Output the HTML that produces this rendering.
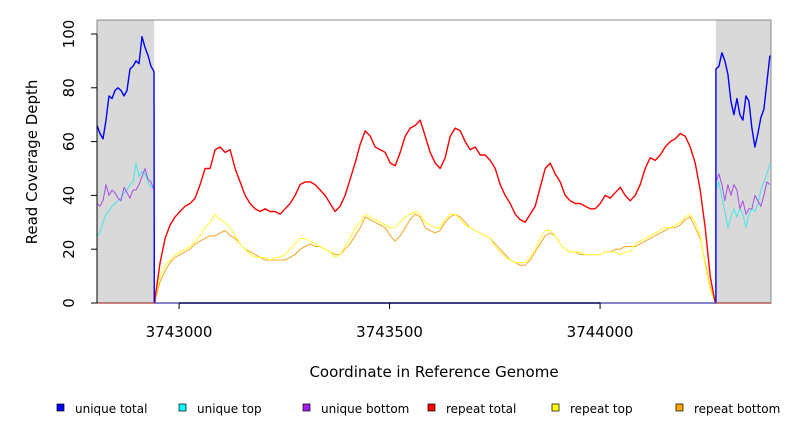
<!DOCTYPE html>
<html><head><meta charset="utf-8"><style>
body{margin:0;background:#fff;width:792px;height:432px;overflow:hidden;font-family:"DejaVu Sans","Liberation Sans",sans-serif}
</style></head><body>
<svg id="chart" width="792" height="432" xmlns="http://www.w3.org/2000/svg" font-family="DejaVu Sans, Liberation Sans, sans-serif">
<g id="bg"></g><g id="series"></g><g id="axes"></g>
<text x="37" y="162" font-size="15" text-anchor="middle" transform="rotate(-90 37 162)">Read Coverage Depth</text>
<text x="434" y="377" font-size="15" text-anchor="middle">Coordinate in Reference Genome</text>
<g id="legend"></g>
</svg>
<script>
const xTicks=[3743000,3743500,3744000];
const yTicks=[0,20,40,60,80,100];
const leftRegion=[3742805,3742941];
const rightRegion=[3744275,3744406];
const repeatStart=3742943, repeatStep=11.88;
const repeatTotal=[2,15,24,29,32,34,36,37,39,44,50,50,57,58,56,57,50,45,40,37,35,34,35,34,34,33,35,37,40,44,45,45,44,42,40,37,34,36,40,46,52,59,64,62,58,57,56,52,51,56,62,65,66,68,62,56,52,50,54,62,65,64,60,57,58,55,55,53,50,44,40,37,33,31,30,33,36,43,50,52,48,45,40,38,37,37,36,35,35,37,40,39,41,43,40,38,40,44,50,54,53,55,58,60,61,63,62,58,52,42,28,10,0];
const repeatBottom=[1,8,12,15,17,18,19,20,22,23,24,25,25,26,27,25,24,22,20,19,18,17,16,16,16,16,16,17,18,20,21,22,21,21,20,19,18,18,20,22,25,28,32,31,30,29,28,25,23,25,28,31,33,32,28,27,26,27,30,32,33,32,30,28,27,26,25,24,22,20,18,16,15,14,14,16,19,22,25,26,25,22,20,19,19,18,18,18,18,18,19,19,20,20,21,21,21,22,23,24,25,26,27,28,28,29,31,32,28,24,15,6,0];
const repeatTop=[2,10,14,16,18,19,20,21,23,25,28,30,33,31,30,28,25,22,20,18,17,17,17,16,17,17,18,20,22,24,24,23,22,21,20,19,17,18,21,24,28,30,33,32,31,30,29,28,28,30,32,33,34,33,30,29,28,28,31,33,33,31,29,28,27,26,25,24,21,19,17,16,15,15,15,17,20,24,27,27,25,22,20,19,19,19,18,18,18,18,19,19,19,18,19,19,22,23,24,25,26,27,28,28,29,30,32,33,30,25,14,5,0];
const flankStep=7.13;
const leftUniqueTotal=[66,63,61,68,77,76,79,80,79,77,79,87,88,90,89,99,95,92,88,86];
const leftUniqueBottom=[37,36,38,44,40,42,41,39,38,43,41,39,42,42,44,47,50,46,45,42];
const leftUniqueTop=[25,26,30,33,34,36,37,38,39,41,42,44,45,52,47,49,48,45,43,44];
const rightUniqueTotal=[87,88,93,90,85,75,70,76,70,68,77,75,65,58,63,69,72,82,92];
const rightUniqueBottom=[45,48,44,38,44,40,44,42,35,38,33,35,35,40,38,36,40,45,44];
const rightUniqueTop=[42,45,39,34,28,32,35,32,35,33,28,33,35,34,37,42,45,48,52];

const X0=97,X1=771,Y0=303,Y1=20;
const xDom=[3742805,3744406], yDom=[0,105.2];
const xs=c=>X0+(c-xDom[0])/(xDom[1]-xDom[0])*(X1-X0);
const ys=v=>Y0-(v-yDom[0])/(yDom[1]-yDom[0])*(Y0-Y1);
const NS="http://www.w3.org/2000/svg";
function mk(tag,attrs,parent){const e=document.createElementNS(NS,tag);for(const k in attrs)e.setAttribute(k,attrs[k]);parent.appendChild(e);return e;}
const bg=document.getElementById('bg'),ser=document.getElementById('series'),ax=document.getElementById('axes'),lg=document.getElementById('legend');

let r=mk('rect',{x:xs(leftRegion[0]),y:Y1,width:xs(leftRegion[1])-xs(leftRegion[0]),height:Y0-Y1,fill:'#d9d9d9'},bg);


r=mk('rect',{x:xs(rightRegion[0]),y:Y1,width:xs(rightRegion[1])-xs(rightRegion[0]),height:Y0-Y1,fill:'#d9d9d9'},bg);



function stepPath(pts){let d='';pts.forEach((p,i)=>{const x=xs(p[0]).toFixed(1),y=ys(p[1]).toFixed(1);d+=(i?'L':'M')+x+','+y;});return d;}
function repeatPts(vals){const pts=[[leftRegion[0],0],[repeatStart,0]];vals.forEach((v,i)=>pts.push([repeatStart+i*repeatStep,v]));pts.push([rightRegion[1],0]);return pts;}
function uniquePts(lv,rv){const pts=[];lv.forEach((v,i)=>pts.push([leftRegion[0]+i*flankStep,v]));pts.push([leftRegion[1],0]);pts.push([rightRegion[0],0]);rv.forEach((v,i)=>pts.push([rightRegion[0]+i*flankStep,v]));return pts;}

const series=[
 ['repeat-bottom-line',repeatPts(repeatBottom),'#f5a623',1],
 ['repeat-top-line',repeatPts(repeatTop),'#ffff33',1],
 ['repeat-total-line',repeatPts(repeatTotal),'#ff0000',1.4],
 ['unique-top-line',uniquePts(leftUniqueTop,rightUniqueTop),'#40e8e8',1],
 ['unique-bottom-line',uniquePts(leftUniqueBottom,rightUniqueBottom),'#a64de6',1],
 ['unique-total-line',uniquePts(leftUniqueTotal,rightUniqueTotal),'#0000ff',1.4]
];
series.forEach(s=>{const p=mk('path',{d:stepPath(s[1]),fill:'none',stroke:s[2],'stroke-width':s[3],'stroke-linejoin':'round'},ser);

});

mk('rect',{x:X0,y:Y1,width:X1-X0,height:Y0-Y1,fill:'none',stroke:'#888','stroke-width':1},ax);
mk('line',{x1:X0,y1:ys(0),x2:X0,y2:ys(100),stroke:'#000'},ax);
yTicks.forEach(v=>{mk('line',{x1:X0-6,x2:X0,y1:ys(v),y2:ys(v),stroke:'#000'},ax);
const t=mk('text',{x:74,y:ys(v),'font-size':15,'text-anchor':'middle',transform:`rotate(-90 74 ${ys(v)})`},ax);t.textContent=v;

});
mk('line',{x1:xs(xTicks[0]),x2:xs(xTicks[xTicks.length-1]),y1:Y0,y2:Y0,stroke:'#000'},ax);
xTicks.forEach(v=>{mk('line',{x1:xs(v),x2:xs(v),y1:Y0,y2:Y0+6,stroke:'#000'},ax);
const t=mk('text',{x:xs(v),y:337,'font-size':15,'text-anchor':'middle'},ax);t.textContent=v;

});

const legendLabels=['unique total','unique top','unique bottom','repeat total','repeat top','repeat bottom'];
const legendColors=['#0000ff','#00ffff','#a020f0','#ff0000','#ffff00','#ffa500'];
const legendX=[57,179,303,428,552,676];
legendLabels.forEach((l,i)=>{const g=mk('g',{},lg);


mk('rect',{x:legendX[i],y:404,width:7,height:7,fill:legendColors[i],stroke:'#000','stroke-width':0.7},g);
const t=mk('text',{x:legendX[i]+18,y:413,'font-size':12},g);t.textContent=l;});
</script>
</body></html>
